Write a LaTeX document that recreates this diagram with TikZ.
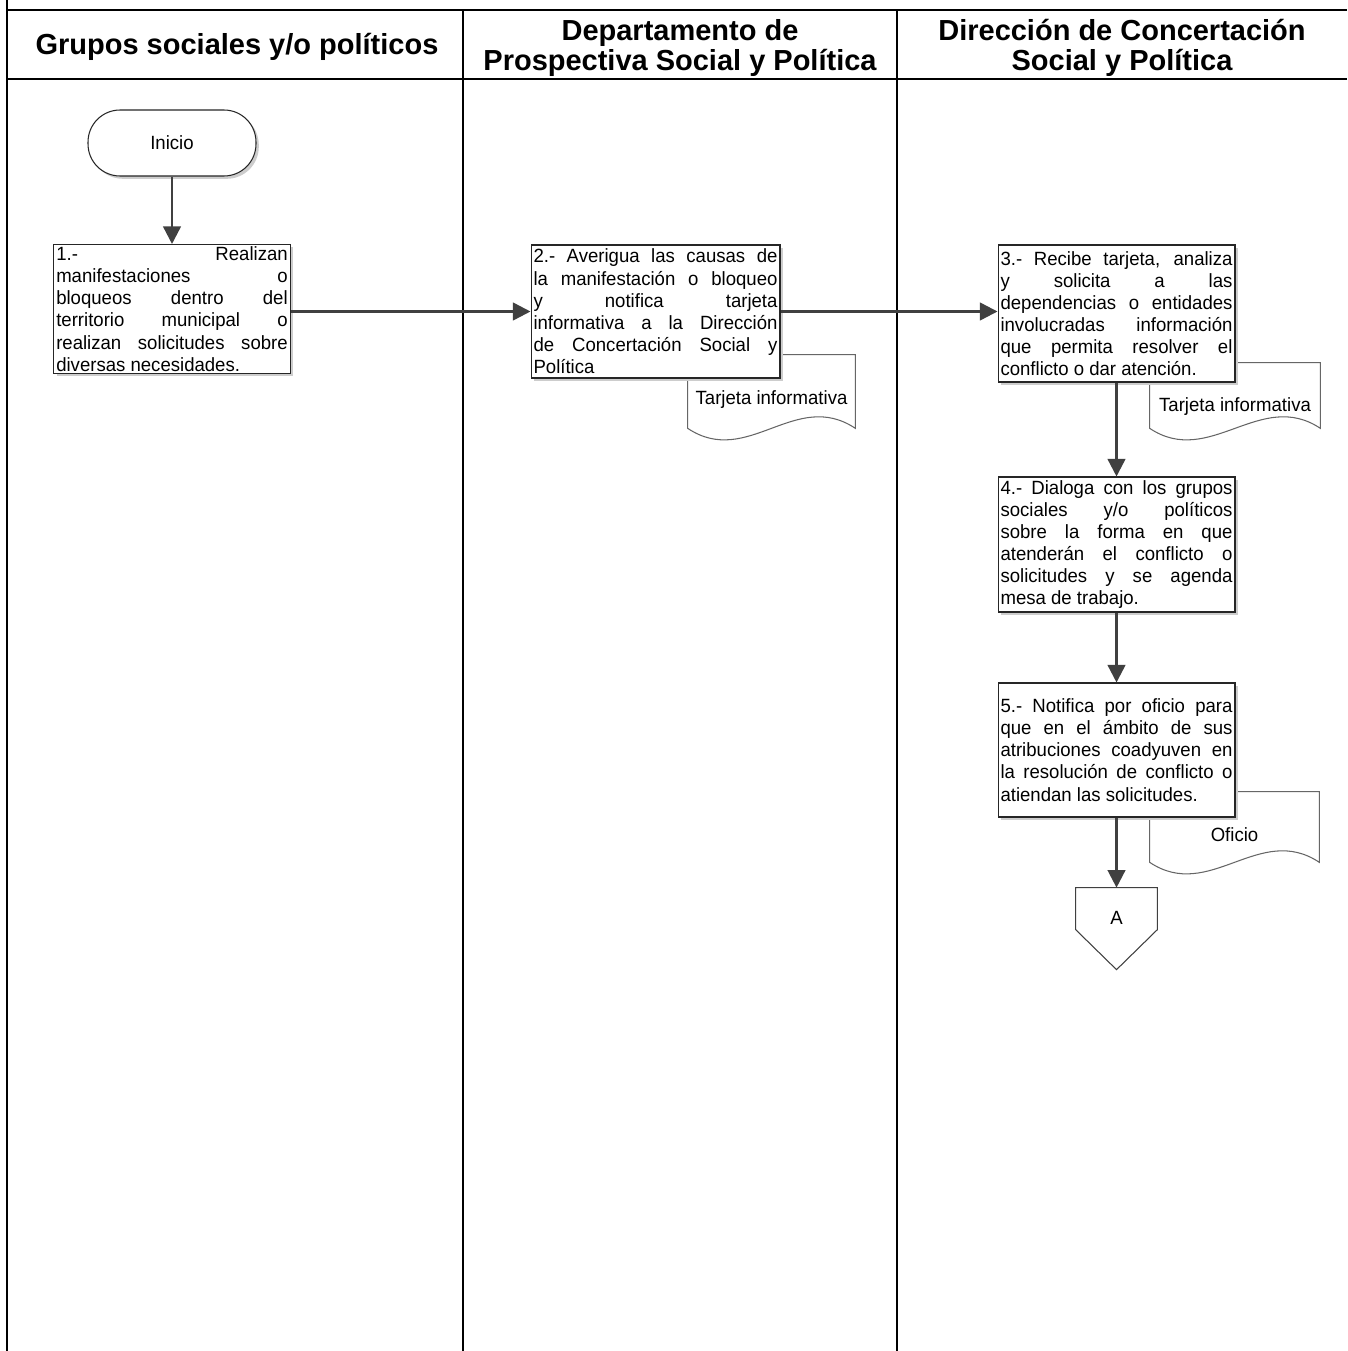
\documentclass[tikz,border=0pt]{standalone}
\usepackage{fontspec}
\setmainfont{Liberation Sans}
\newfontfamily\boxfont[FakeStretch=0.97]{Liberation Sans}
\usepackage{xcolor}
\definecolor{lineg}   {RGB}{64, 64, 64}
\definecolor{shadowg} {RGB}{205, 205, 205}
\usetikzlibrary{arrows.meta, positioning}
\usetikzlibrary{shadows, backgrounds}

\begin{document}
\begin{tikzpicture}[
			x=0.02cm, y=-0.02cm,
			lane/.style={line width=1.3pt, black},
			lanehead/.style={font=\fontsize{16.5}{17.5}\selectfont\bfseries, align=center},
			shade/.style={drop shadow={shadow xshift=1.6pt, shadow yshift=-1.6pt, fill=shadowg, opacity=1}},
			proc/.style={draw=black!85, line width=0.6pt, fill=white, align=justify,
				font={\boxfont\fontsize{10.9}{12.6}\selectfont\hyphenpenalty=10000\exhyphenpenalty=10000\tolerance=10000},
				inner xsep=0.05cm, inner ysep=0pt, shade},
			term/.style={draw=black!85, line width=0.6pt, fill=white, rectangle, rounded corners=0.64cm,
				minimum width=3.36cm, minimum height=1.32cm, font=\boxfont\fontsize{10.9}{12.6}\selectfont, shade},
			docu/.style={rectangle, inner sep=0pt, font=\boxfont\fontsize{10.9}{12.6}\selectfont},
			docline/.style={draw=black!60, line width=0.6pt, fill=white},
			flow/.style={-{Triangle[length=10pt, width=10pt]}, line width=1.4pt, lineg},
			]
			\useasboundingbox (0,0) rectangle (1347,1351);
			% swimlanes
			\draw[lane] (7,0) -- (7,1351);
			\draw[lane] (7,10) -- (1347,10);
			\draw[lane] (7,79) -- (1347,79);
			\draw[lane] (463,10) -- (463,1351);
			\draw[lane] (897,10) -- (897,1351);
			\node[lanehead] (h1) at (237,47) {Grupos sociales y/o políticos};
			\node[lanehead] (h2) at (680,48) {Departamento de\\Prospectiva Social y Política};
			\node[lanehead] (h3) at (1122,48) {Dirección de Concertación\\Social y Política};

			% steps
			\node[term] (ini) at (172,143) {Inicio};
			\node[proc, text width=4.63cm, minimum height=2.58cm] (b1) at (172,309)
				{1.- Realizan\linebreak manifestaciones o\linebreak bloqueos dentro del\linebreak territorio municipal o\linebreak realizan solicitudes sobre\linebreak diversas necesidades.};
			\node[proc, text width=4.88cm, minimum height=2.66cm] (b2) at (655.5,311.5)
				{2.- Averigua las causas de\linebreak la manifestación o bloqueo\linebreak y notifica tarjeta\linebreak informativa a la Dirección\linebreak de Concertación Social y\linebreak Política};
			\node[proc, text width=4.64cm, minimum height=2.74cm] (b3) at (1116.5,313.5)
				{3.- Recibe tarjeta, analiza\linebreak y solicita a las\linebreak dependencias o entidades\linebreak involucradas información\linebreak que permita resolver el\linebreak conflicto o dar atención.};
			\node[proc, text width=4.64cm, minimum height=2.70cm] (b4) at (1116.5,544.5)
				{4.- Dialoga con los grupos\linebreak sociales y/o políticos\linebreak sobre la forma en que\linebreak atenderán el conflicto o\linebreak solicitudes y se agenda\linebreak mesa de trabajo.};
			\node[proc, text width=4.64cm, minimum height=2.68cm] (b5) at (1116.5,750)
				{5.- Notifica por oficio para\linebreak que en el ámbito de sus\linebreak atribuciones coadyuven en\linebreak la resolución de conflicto o\linebreak atiendan las solicitudes.};

			% documents
			\node[docu, minimum width=3.34cm, minimum height=1.46cm,
				label={[yshift=-0.17cm, font=\boxfont\fontsize{10.9}{12.6}\selectfont]center:Tarjeta informativa}] (d1) at (771.5,391.5) {};
			\node[docu, minimum width=3.40cm, minimum height=1.30cm,
				label={[yshift=-0.23cm, font=\boxfont\fontsize{10.9}{12.6}\selectfont]center:Tarjeta informativa}] (d2) at (1235,395.5) {};
			\node[docu, minimum width=3.38cm, minimum height=1.40cm,
				label={[yshift=-0.16cm, font=\boxfont\fontsize{10.9}{12.6}\selectfont]center:Oficio}] (d3) at (1234.5,827) {};

			% off-page connector
			\node[docu, minimum width=1.62cm, minimum height=1.2cm] (A) at (1116.5,918) {A};

			\begin{pgfonlayer}{background}
				\foreach \d in {d1,d2,d3}
				\draw[docline] (\d.south west) -- (\d.north west) -- (\d.north east) -- (\d.south east)
					.. controls +(-60,-40) and +(60,40) .. (\d.south west) -- cycle;
				\draw[docline, draw=black!75] (A.north west) -- (A.north east) -- ([yshift=-0.84cm]A.north east)
					-- ([yshift=-1.64cm]A.north) -- ([yshift=-0.84cm]A.north west) -- cycle;
			\end{pgfonlayer}

			% connectors
			\draw[flow] (ini) -- (b1);
			\draw[flow] (b1.east |- b2.west) -- (b2.west);
			\draw[flow] (b2.east) -- (b2.east -| b3.west);
			\foreach \a/\b in {b3/b4, b4/b5, b5/A}
			\draw[flow] (\a.south) -- (\b.north);
	\end{tikzpicture}
\end{document}
